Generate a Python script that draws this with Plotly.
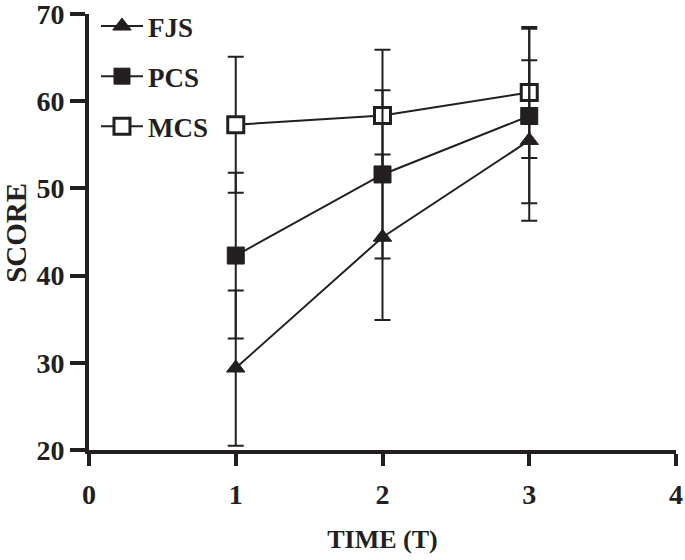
import plotly.graph_objects as go

time_points = [1, 2, 3]
fjs_mean = [29.4, 44.4, 55.5]
fjs_err = [8.9, 9.5, 9.2]
pcs_mean = [42.3, 51.6, 58.3]
pcs_err = [9.5, 9.65, 10.0]
mcs_mean = [57.3, 58.35, 61.0]
mcs_err = [7.8, 7.55, 7.5]

x_ticks = [0, 1, 2, 3, 4]
y_ticks = [20, 30, 40, 50, 60, 70]

INK = "#231f20"
FAM = "Liberation Serif"

fig = go.Figure()

def add(name, y, err, symbol, fill, size, lw, rank):
    fig.add_trace(go.Scatter(
        x=time_points, y=y, name=name, mode="lines+markers",
        line=dict(color=INK, width=2),
        marker=dict(symbol=symbol, size=size, color=fill, line=dict(color=INK, width=lw)),
        error_y=dict(type="data", array=err, visible=True, color=INK, thickness=2, width=8),
        legendgroup=name, legendrank=rank,
    ))

add("MCS", mcs_mean, mcs_err, "square", "white", 16, 3, 3)
add("PCS", pcs_mean, pcs_err, "square", INK, 17, 1, 2)
add("FJS", fjs_mean, fjs_err, "triangle-up", INK, 16, 1, 1)

tick_font = dict(family=FAM, size=28, color=INK, weight="bold")

fig.update_layout(
    width=685, height=560,
    margin=dict(l=89, r=9, t=14, b=110, autoexpand=False),
    paper_bgcolor="white", plot_bgcolor="white",
    font=dict(family=FAM, size=28, color=INK, weight="bold"),
    showlegend=True,
    legend=dict(x=0.0119, y=1.0275, xanchor="left", yanchor="top",
                bgcolor="rgba(0,0,0,0)", tracegroupgap=12, itemwidth=42,
                font=dict(family=FAM, size=27, color=INK, weight="bold")),
    annotations=[dict(
        text="SCORE", textangle=-90, showarrow=False,
        xref="paper", yref="paper", x=-0.1235, y=0.497,
        xanchor="center", yanchor="middle",
        font=dict(family=FAM, size=29, color=INK, weight="bold"),
    )],
)
fig.update_xaxes(
    range=[0, 4], tickvals=x_ticks, ticktext=[str(v) for v in x_ticks],
    showline=True, linecolor=INK, linewidth=4, showgrid=False, zeroline=False,
    ticks="outside", ticklen=12, tickwidth=4, tickcolor=INK,
    ticklabelstandoff=4, tickfont=tick_font, ticklabeloverflow="allow",
    title=dict(text="TIME (T)", standoff=22,
               font=dict(family=FAM, size=26, color=INK, weight="bold")),
    automargin=False,
)
fig.update_yaxes(
    range=[20, 70], tickvals=y_ticks, ticktext=[str(v) for v in y_ticks],
    showline=True, linecolor=INK, linewidth=4, showgrid=False, zeroline=False,
    ticks="outside", ticklen=15, tickwidth=4, tickcolor=INK,
    ticklabelstandoff=0, tickfont=tick_font, ticklabeloverflow="allow",
    automargin=False,
)

fig.write_html("out.html", config={"displayModeBar": False},
               post_script="document.body.style.margin='0';")
